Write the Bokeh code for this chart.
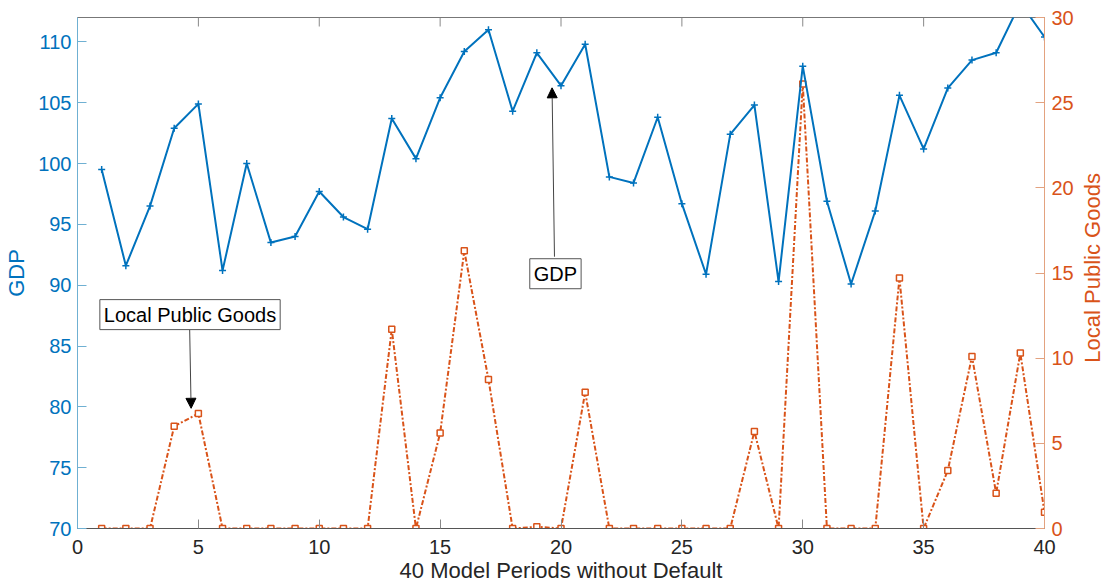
import math
from bokeh.plotting import figure
from bokeh.layouts import row
from bokeh.models import (Range1d, FixedTicker, LinearAxis, Label, Arrow, NormalHead,
                          ColumnDataSource)
from bokeh.embed import file_html
from bokeh.resources import INLINE

# ---------------- data ----------------
periods = list(range(1, 41))
gdp = [99.5, 91.6, 96.5, 102.9, 104.9, 91.2, 100.0, 93.5, 94.0, 97.7,
       95.6, 94.6, 103.7, 100.4, 105.4, 109.2, 111.0, 104.3, 109.1, 106.4,
       109.8, 98.9, 98.4, 103.8, 96.7, 90.9, 102.4, 104.8, 90.3, 108.0,
       96.9, 90.1, 96.1, 105.6, 101.2, 106.2, 108.5, 109.1, 113.2, 110.4]
lpg = [0, 0, 0, 6.0, 6.75, 0, 0, 0, 0, 0,
       0, 0, 11.7, 0, 5.6, 16.3, 8.75, 0, 0.1, 0,
       8.0, 0, 0, 0, 0, 0, 0, 5.7, 0, 26.1,
       0, 0, 0, 14.7, 0, 3.4, 10.1, 2.07, 10.3, 0.96]
x_ticks = [0, 5, 10, 15, 20, 25, 30, 35, 40]
gdp_ticks = [70, 75, 80, 85, 90, 95, 100, 105, 110]
lpg_ticks = [0, 5, 10, 15, 20, 25, 30]
x_label = "40 Model Periods without Default"
gdp_label = "GDP"
lpg_label = "Local Public Goods"

X_RANGE = (0, 40)
GDP_RANGE = (70, 112)
LPG_RANGE = (0, 30)

# annotation anchors (data coords: x, GDP axis)
ann_lpg_text = (4.654, 87.58)
ann_lpg_arrow = (4.64, 86.34, 4.70, 79.88)
ann_gdp_text = (19.77, 90.94)
ann_gdp_arrow = (19.73, 92.34, 19.63, 106.22)

BLUE = "#0072BD"
ORANGE = "#D95319"
DARK = "#262626"
FONT = "Liberation Sans"

src = ColumnDataSource(dict(x=periods, gdp=gdp, lpg=lpg))

p = figure(width=1080, height=588, output_backend="svg", toolbar_location=None,
           x_range=Range1d(*X_RANGE), y_range=Range1d(*GDP_RANGE),
           min_border_left=77, min_border_right=36, min_border_top=17, min_border_bottom=60)
p.extra_y_ranges = {"lpg": Range1d(*LPG_RANGE)}
p.xgrid.visible = False
p.ygrid.visible = False
p.outline_line_color = "#777777"
p.outline_line_width = 1
p.background_fill_color = "white"

# left axis
ya = p.yaxis[0]
ya.ticker = FixedTicker(ticks=gdp_ticks)
ya.axis_label = gdp_label
ya.axis_line_color = "#6FB0D2"
ya.major_tick_line_color = "#6FB0D2"
ya.major_tick_in = 9
ya.major_tick_out = 0
ya.minor_tick_line_color = None
ya.major_label_text_color = BLUE
ya.major_label_text_font = FONT
ya.major_label_text_font_size = "20px"
ya.major_label_standoff = 6
ya.axis_label_text_color = BLUE
ya.axis_label_text_font = FONT
ya.axis_label_text_font_size = "22px"
ya.axis_label_text_font_style = "normal"
ya.axis_label_standoff = 6

# bottom axis
xa = p.xaxis[0]
xa.ticker = FixedTicker(ticks=x_ticks)
xa.axis_label = x_label
xa.axis_line_color = "#555555"
xa.major_tick_line_color = "#888888"
xa.major_tick_in = 9
xa.major_tick_out = 0
xa.minor_tick_line_color = None
xa.major_label_text_color = DARK
xa.major_label_text_font = FONT
xa.major_label_text_font_size = "20px"
xa.major_label_standoff = 11
xa.axis_label_text_color = DARK
xa.axis_label_text_font = FONT
xa.axis_label_text_font_size = "22px"
xa.axis_label_text_font_style = "normal"
xa.axis_label_standoff = 1

# right axis (ticks + tick labels; its title is drawn in the narrow side panel)
ra = LinearAxis(y_range_name="lpg", ticker=FixedTicker(ticks=lpg_ticks))
ra.axis_line_color = "#E3A27F"
ra.major_tick_line_color = "#E3A27F"
ra.major_tick_in = 9
ra.major_tick_out = 0
ra.minor_tick_line_color = None
ra.major_label_text_color = ORANGE
ra.major_label_text_font = FONT
ra.major_label_text_font_size = "20px"
ra.major_label_standoff = 7
p.add_layout(ra, "right")

# top ticks (box on), inward, 9px long
tick_len = 9 * (GDP_RANGE[1] - GDP_RANGE[0]) / 511
p.segment(x0=x_ticks, y0=[GDP_RANGE[1]] * len(x_ticks), x1=x_ticks,
          y1=[GDP_RANGE[1] - tick_len] * len(x_ticks), line_color="#888888", line_width=1)

# series
p.line("x", "lpg", source=src, y_range_name="lpg", line_color=ORANGE, line_width=2,
       line_dash="5 2 2 2")
p.scatter("x", "lpg", source=src, y_range_name="lpg", marker="square", size=6,
          line_color=ORANGE, line_width=1.5, fill_color="white")
p.line("x", "gdp", source=src, line_color=BLUE, line_width=2)
p.scatter("x", "gdp", source=src, marker="cross", size=7, line_color=BLUE, line_width=1.5)

# annotations
for (x0, y0, x1, y1) in (ann_lpg_arrow, ann_gdp_arrow):
    p.add_layout(Arrow(x_start=x0, y_start=y0, x_end=x1, y_end=y1,
                       line_color="#444444", line_width=1,
                       end=NormalHead(size=10, fill_color="black", line_color="black")))
for (tx, ty), txt in ((ann_lpg_text, lpg_label), (ann_gdp_text, gdp_label)):
    p.add_layout(Label(x=tx, y=ty, text=txt, text_align="center", text_baseline="middle",
                       text_font=FONT, text_font_size="20px", text_color="black",
                       background_fill_color="white", border_line_color="#555555",
                       border_line_width=1, padding=4))

# narrow side panel carrying the right-axis title (reads bottom to top)
q = figure(width=24, height=588, output_backend="svg", toolbar_location=None,
           x_range=Range1d(0, 1), y_range=Range1d(0, 1),
           x_axis_type=None, y_axis_type=None,
           min_border_left=0, min_border_right=0, min_border_top=0, min_border_bottom=0)
q.xgrid.visible = False
q.ygrid.visible = False
q.outline_line_color = None
q.add_layout(Label(x=0.5, y=0.51, text=lpg_label, angle=math.pi / 2,
                   text_align="center", text_baseline="middle",
                   text_font=FONT, text_font_size="22px", text_color=ORANGE))

layout = row(p, q)
open("out.html", "w").write(file_html(layout, INLINE))
